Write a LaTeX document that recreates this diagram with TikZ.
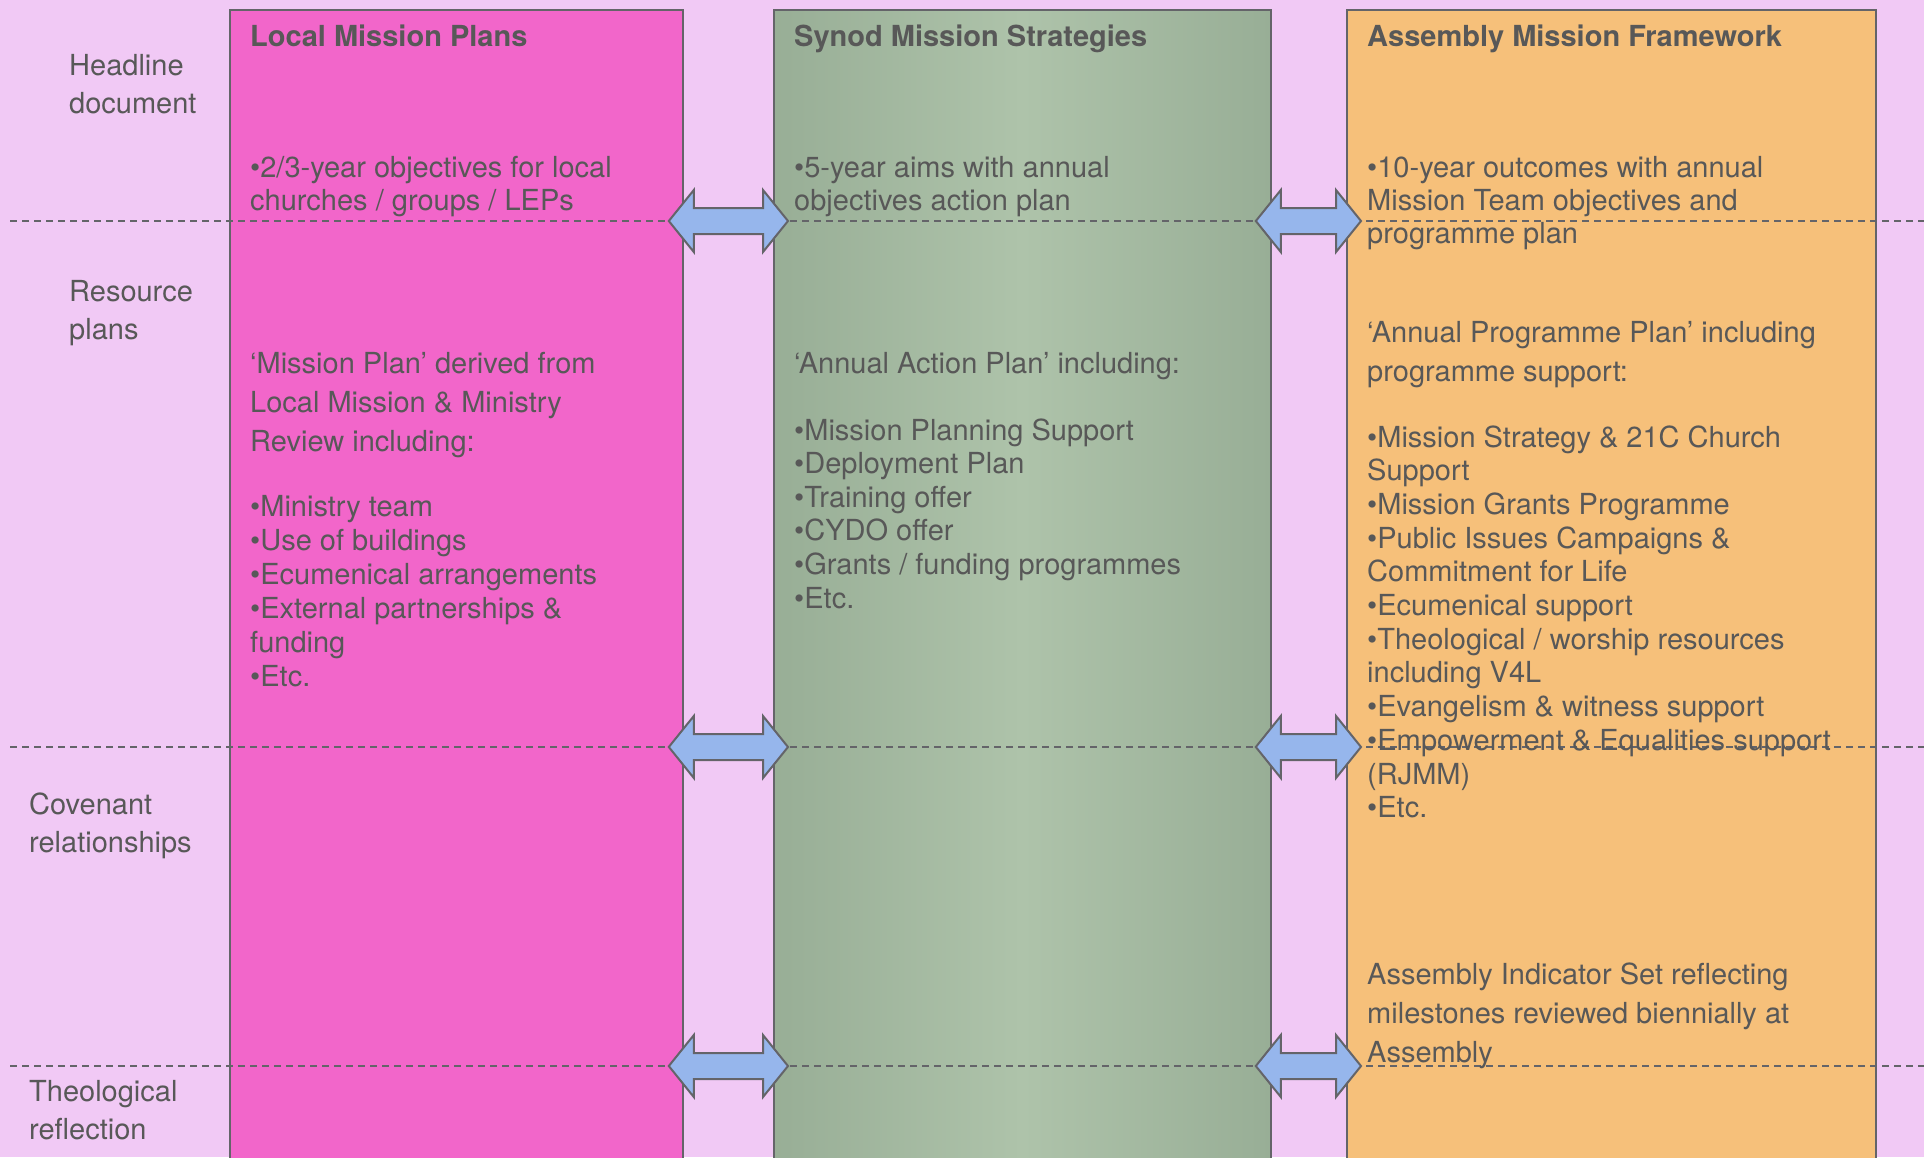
\documentclass[tikz,border=0pt]{standalone}
\usepackage{fontspec}
\setmainfont{TeX Gyre Heros}
\usetikzlibrary{calc}
\definecolor{bg}{RGB}{241,201,245}
\definecolor{pinkc}{RGB}{242,102,202}
\definecolor{greenA}{RGB}{152,174,150}
\definecolor{greenB}{RGB}{174,195,170}
\definecolor{orangec}{RGB}{246,192,122}
\definecolor{arrowc}{RGB}{150,182,236}
\definecolor{linec}{RGB}{100,100,105}
\definecolor{txtc}{RGB}{88,88,88}
\newcommand\tlines[5]{\foreach \t [count=\i] in {#5}{\node[txt] (#1\i) at (#2,{#3+(\i-1)*#4}) {\t};}}
\newcommand\dblarrow[2]{%
  \draw[dblarr] let \p1=#1, \p2=#2 in
    (\x1,\y1) -- (\x1+25pt,\y1+31pt) -- (\x1+25pt,\y1+13pt) -- (\x2-25pt,\y1+13pt)
    -- (\x2-25pt,\y1+31pt) -- (\x2,\y1) -- (\x2-25pt,\y1-31pt) -- (\x2-25pt,\y1-13pt)
    -- (\x1+25pt,\y1-13pt) -- (\x1+25pt,\y1-31pt) -- cycle;}
\begin{document}
\begin{tikzpicture}[x=1pt,y=-1pt,
  col/.style={draw=linec, line width=1.8pt, anchor=north west, inner sep=0pt, minimum height=1200pt},
  txt/.style={anchor=base west, inner sep=0pt, text=txtc, font=\fontsize{29}{34}\selectfont},
  ttl/.style={txt, font=\fontsize{29}{34}\selectfont\bfseries},
  dline/.style={draw=linec, line width=2.2pt, dash pattern=on 7pt off 5pt},
  dblarr/.style={draw=linec, fill=arrowc, line width=2pt, line join=miter}]
\clip (0,0) rectangle (1924,1157);
\fill[bg] (0,0) rectangle (1924,1157);
% columns
\node[col, fill=pinkc, minimum width=453pt] (pink) at (229,9) {};
\node[col, left color=greenA, right color=greenA, middle color=greenB, minimum width=497pt] (green) at (773,9) {};
\node[col, fill=orangec, minimum width=529pt] (orange) at (1346,9) {};
% dashed row separators
\coordinate (l1a) at (10,221);  \coordinate (l1b) at (1924,221);
\coordinate (l2a) at (10,747);  \coordinate (l2b) at (1924,747);
\coordinate (l3a) at (10,1066); \coordinate (l3b) at (1924,1066);
\draw[dline] (l1a) -- (l1b);
\draw[dline] (l2a) -- (l2b);
\draw[dline] (l3a) -- (l3b);
% double arrows
\foreach \r in {l1a,l2a,l3a}{
  \dblarrow{($(pink.east|-\r)+(-15,0)$)}{($(green.west|-\r)+(15,0)$)}
  \dblarrow{($(green.east|-\r)+(-16,0)$)}{($(orange.west|-\r)+(15,0)$)}
}
% row labels
\tlines{hd}{69}{75}{38}{Headline,document}
\tlines{rp}{69}{301}{38}{Resource,plans}
\tlines{cr}{29}{814}{38}{Covenant,relationships}
\tlines{tr}{29}{1101}{38}{Theological,reflection}
% titles
\node[ttl] (t1) at (250,46) {Local Mission Plans};
\node[ttl] (t2) at (794,46) {Synod Mission Strategies};
\node[ttl] (t3) at (1367,46) {Assembly Mission Framework};
% pink column
\tlines{pa}{250}{177}{33}{•2/3-year objectives for local,churches / groups / LEPs}
\tlines{pb}{250}{373}{39}{‘Mission Plan’ derived from,Local Mission \& Ministry,Review including:}
\tlines{pc}{250}{516}{34}{•Ministry team,•Use of buildings,•Ecumenical arrangements,•External partnerships \&,funding,•Etc.}
% green column
\tlines{ga}{794}{177}{33}{•5-year aims with annual,objectives action plan}
\tlines{gb}{794}{373}{39}{‘Annual Action Plan’ including:}
\tlines{gc}{794}{440}{33.6}{•Mission Planning Support,•Deployment Plan,•Training offer,•CYDO offer,•Grants / funding programmes,•Etc.}
% orange column
\tlines{oa}{1367}{177}{33}{•10-year outcomes with annual,Mission Team objectives and,programme plan}
\tlines{ob}{1367}{342}{39}{‘Annual Programme Plan’ including,programme support:}
\tlines{oc}{1367}{447}{33.7}{•Mission Strategy \& 21C Church,Support,•Mission Grants Programme,•Public Issues Campaigns \&,Commitment for Life,•Ecumenical support,•Theological / worship resources,including V4L,•Evangelism \& witness support,•Empowerment \& Equalities support,(RJMM),•Etc.}
\tlines{od}{1367}{984}{39}{Assembly Indicator Set reflecting,milestones reviewed biennially at,Assembly}
\end{tikzpicture}
\end{document}
